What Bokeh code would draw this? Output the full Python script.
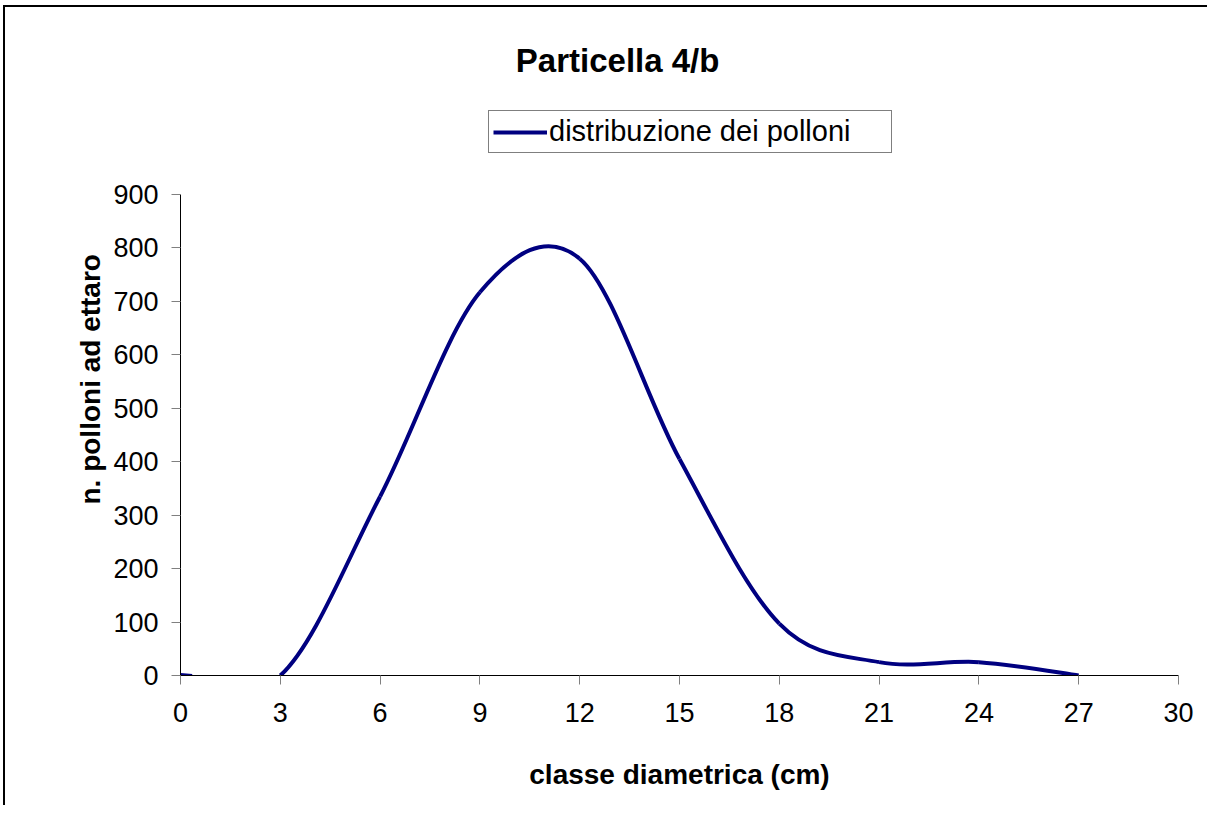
from bokeh.plotting import figure
from bokeh.models import Range1d, FixedTicker, Label, Legend, LegendItem, ColumnDataSource, Title
from bokeh.embed import file_html
from bokeh.resources import INLINE

# ---- data ----
classi = [0, 3, 6, 9, 12, 15, 18, 21, 24, 27]          # classe diametrica (cm)
polloni = [0, 0, 335, 717, 780, 405, 97, 25, 25, 0]     # n. polloni ad ettaro
origine_x = [0, 0.35]                                   # short stub drawn at the origin
origine_y = [2, 0]
x_ticks = [0, 3, 6, 9, 12, 15, 18, 21, 24, 27, 30]
y_ticks = [0, 100, 200, 300, 400, 500, 600, 700, 800, 900]
titolo = "Particella 4/b"
serie = "distribuzione dei polloni"
x_label = "classe diametrica (cm)"
y_label = "n. polloni ad ettaro"

FONT = "Liberation Sans"
NAVY = "#000080"

# y range extends above 900 so that title and legend sit inside the frame (axis bounded to 0-900)
p = figure(width=1204, height=800, output_backend="svg", toolbar_location=None,
           x_range=Range1d(0, 30), y_range=Range1d(0, 1250),
           min_border_left=175, min_border_right=31, min_border_top=0, min_border_bottom=132)
p.styles = {"border-left": "2px solid black", "border-top": "2px solid black",
            "margin-left": "3px", "margin-top": "5px"}
p.outline_line_color = None
p.grid.visible = False
p.background_fill_color = "white"
p.border_fill_color = "white"

# smooth (Excel-like) curve via Bezier segments built from the data points (from x=3 on)
n = len(classi)
x0, y0, x1, y1, cx0, cy0, cx1, cy1 = ([] for _ in range(8))
for i in range(1, n - 1):
    xm, ym = classi[i - 1], polloni[i - 1]
    xp, yp = (classi[i + 2], polloni[i + 2]) if i + 2 < n else (classi[i + 1], polloni[i + 1])
    x0.append(classi[i]); y0.append(polloni[i])
    x1.append(classi[i + 1]); y1.append(polloni[i + 1])
    cx0.append(classi[i] + (classi[i + 1] - xm) / 6)
    cy0.append(polloni[i] + (polloni[i + 1] - ym) / 6)
    cx1.append(classi[i + 1] - (xp - classi[i]) / 6)
    cy1.append(polloni[i + 1] - (yp - polloni[i]) / 6)
src = ColumnDataSource(dict(x0=x0, y0=y0, x1=x1, y1=y1, cx0=cx0, cy0=cy0, cx1=cx1, cy1=cy1))
curve = p.bezier(x0="x0", y0="y0", x1="x1", y1="y1", cx0="cx0", cy0="cy0", cx1="cx1", cy1="cy1",
                 source=src, line_color=NAVY, line_width=4)
p.line(origine_x, origine_y, line_color=NAVY, line_width=3)

# axes
for ax in (p.xaxis[0], p.yaxis[0]):
    ax.axis_line_color = "black"
    ax.axis_line_width = 1
    ax.major_tick_line_color = "#808080"
    ax.major_tick_in = 0
    ax.major_tick_out = 9
    ax.minor_tick_line_color = None
    ax.major_label_text_font = FONT
    ax.major_label_text_font_size = "27px"
    ax.major_label_text_color = "black"
    ax.axis_label_text_font = FONT
    ax.axis_label_text_font_size = "28px"
    ax.axis_label_text_font_style = "bold"
    ax.axis_label_text_color = "black"

p.xaxis.ticker = FixedTicker(ticks=x_ticks)
p.yaxis.ticker = FixedTicker(ticks=y_ticks)
p.yaxis.bounds = (0, 900)
p.xaxis.axis_label = x_label
p.xaxis.major_label_standoff = 18
p.yaxis.major_label_standoff = 13
p.xaxis.axis_label_standoff = 34

# y-axis title, placed in the left panel and centred on the 0-900 span of the axis
p.add_layout(Title(text=y_label, align="left", offset=115, standoff=10, padding=(56, 0, 0, 0),
                   text_font=FONT, text_font_size="28px", text_font_style="bold",
                   text_color="black"), "left")

# chart title
p.add_layout(Label(x=13.14, y=1151, text=titolo, text_align="center", text_baseline="middle",
                   text_font=FONT, text_font_size="33px", text_font_style="bold",
                   text_color="black"))

# legend
legend = Legend(items=[LegendItem(label=serie, renderers=[curve])],
                location=(308, 522), orientation="vertical",
                label_text_font=FONT, label_text_font_size="29px", label_text_color="black",
                glyph_width=54, glyph_height=28, label_standoff=2, label_width=338,
                padding=4, spacing=0, margin=0,
                border_line_color="black", border_line_width=1,
                background_fill_color="white", background_fill_alpha=1)
p.add_layout(legend, "center")

open("out.html", "w").write(file_html(p, INLINE))
